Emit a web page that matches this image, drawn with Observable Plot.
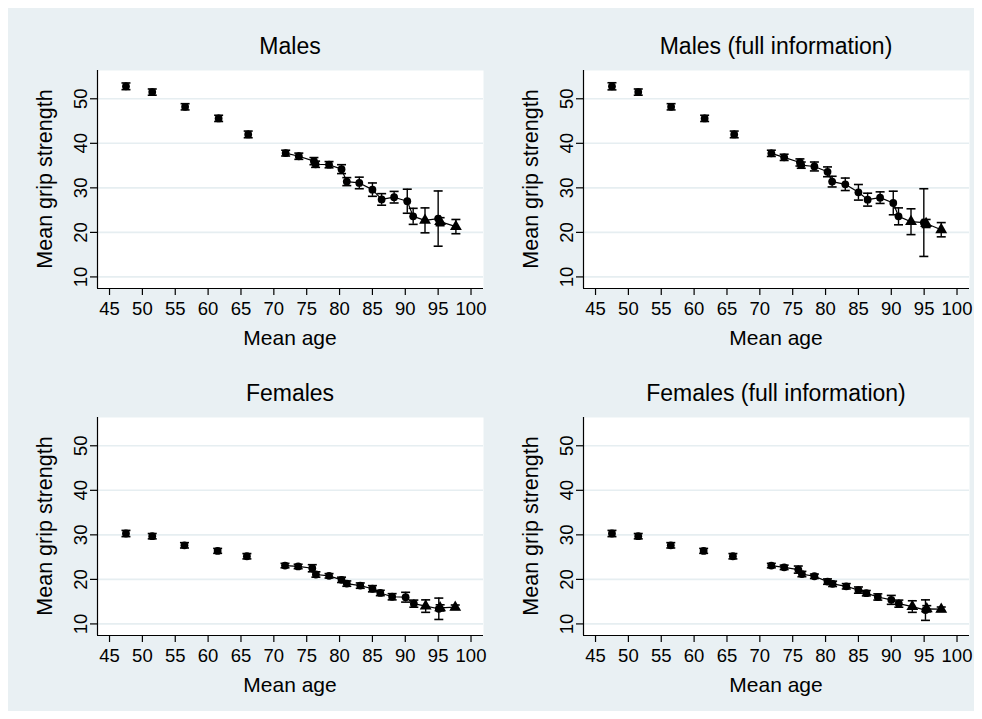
<!DOCTYPE html>
<html>
<head>
<meta charset="utf-8">
<script src="https://cdn.jsdelivr.net/npm/d3@7"></script>
<script src="https://cdn.jsdelivr.net/npm/@observablehq/plot@0.6"></script>
<style>
  html, body { margin: 0; padding: 0; background: #ffffff; }
  #page { position: relative; width: 982px; height: 719px; overflow: hidden; background: #ffffff;
          font-family: "Liberation Sans", Arial, Helvetica, sans-serif; color: #000; }
  #bg { position: absolute; left: 8px; top: 8px; width: 966px; height: 703px; background: #e9f0f3; }
  .panel { position: absolute; }
  .ptitle { position: absolute; font-size: 23px; white-space: nowrap; transform: translate(-50%, -50%); }
  .xtitle { position: absolute; font-size: 21px; white-space: nowrap; transform: translate(-50%, -50%); }
  .ytitle { position: absolute; font-size: 21.5px; white-space: nowrap; transform: translate(-50%, -50%) rotate(-90deg); }
</style>
</head>
<body>
<div id="page"><div id="bg"></div></div>
<script>
// ---------- data ----------
const panelTitles = ["Males", "Males (full information)", "Females", "Females (full information)"];
const xTicks = [45, 50, 55, 60, 65, 70, 75, 80, 85, 90, 95, 100];
const yTicks = [10, 20, 30, 40, 50];
const xLabel = "Mean age";
const yLabel = "Mean grip strength";

// marker type per point (same structure in every panel) and whether it is on the connected line
const markers = ["circle","circle","circle","circle","circle","circle","circle","circle","circle","circle","circle",
                 "circle","circle","circle","circle","circle","circle","circle","triangle","circle","triangle","triangle"];
const connected = [0,0,0,0,0,1,1,1,1,1,1,1,1,1,1,1,1,1,1,1,1,1];

const agesMales      = [47.5, 51.5, 56.5, 61.6, 66.1, 71.8, 73.8, 76.1, 76.35, 78.4, 80.3, 81.1, 83.0, 85.0, 86.4, 88.3, 90.3, 91.2, 93.0, 95.0, 95.3, 97.7];
const gripMales      = [52.8, 51.5, 48.2, 45.6, 42.0, 37.8, 37.1, 36.0, 35.3, 35.2, 34.2, 31.4, 31.1, 29.6, 27.4, 27.9, 27.0, 23.6, 22.7, 23.1, 22.4, 21.3];
const ciMales        = [0.75, 0.7, 0.7, 0.7, 0.75, 0.65, 0.7, 0.8, 0.7, 0.7, 1.0, 0.9, 1.3, 1.5, 1.3, 1.3, 2.7, 1.8, 2.8, 6.2, 0.9, 1.6];

const agesMalesFull  = [47.5, 51.5, 56.5, 61.6, 66.1, 71.75, 73.7, 76.1, 76.3, 78.3, 80.3, 81.0, 83.0, 85.0, 86.4, 88.3, 90.3, 91.1, 93.0, 94.95, 95.3, 97.6];
const gripMalesFull  = [52.8, 51.5, 48.2, 45.6, 42.0, 37.75, 36.85, 35.7, 35.1, 34.8, 33.6, 31.4, 30.8, 29.0, 27.35, 27.8, 26.6, 23.6, 22.4, 22.2, 22.0, 20.6];
const ciMalesFull    = [0.8, 0.7, 0.7, 0.7, 0.75, 0.7, 0.7, 0.8, 0.7, 1.0, 1.1, 1.2, 1.4, 1.75, 1.45, 1.3, 2.65, 1.9, 2.9, 7.6, 0.9, 1.6];

const agesFemales    = [47.5, 51.5, 56.4, 61.45, 65.9, 71.7, 73.7, 75.85, 76.4, 78.4, 80.3, 81.1, 83.15, 85.0, 86.2, 88.0, 90.05, 91.3, 93.1, 95.1, 95.3, 97.6];
const gripFemales    = [30.3, 29.7, 27.65, 26.4, 25.2, 23.1, 22.9, 22.5, 21.1, 20.8, 19.9, 19.05, 18.6, 17.9, 16.95, 16.1, 16.0, 14.55, 14.0, 13.4, 13.6, 13.75];
const ciFemales      = [0.7, 0.6, 0.6, 0.55, 0.6, 0.5, 0.5, 0.8, 0.6, 0.5, 0.6, 0.6, 0.6, 0.7, 0.6, 0.7, 1.1, 0.8, 1.4, 2.4, 0.7, 0.5];

const agesFemalesFull = [47.5, 51.5, 56.45, 61.45, 65.9, 71.75, 73.7, 75.85, 76.4, 78.3, 80.3, 81.07, 83.15, 85.0, 86.2, 87.95, 90.0, 91.15, 93.2, 95.2, 95.4, 97.6];
const gripFemalesFull = [30.3, 29.7, 27.65, 26.4, 25.2, 23.1, 22.7, 22.2, 21.2, 20.7, 19.5, 19.0, 18.45, 17.6, 16.9, 16.05, 15.4, 14.55, 13.9, 13.1, 13.4, 13.3];
const ciFemalesFull   = [0.7, 0.6, 0.6, 0.55, 0.6, 0.5, 0.5, 0.8, 0.6, 0.5, 0.6, 0.6, 0.6, 0.7, 0.6, 0.7, 1.0, 0.8, 1.3, 2.3, 0.7, 0.5];

// ---------- layout ----------
const BG = "#e9f0f3";
const GRID = "#e6eef1";
const xDomain = [43.17, 101.9];
const yDomain = [7.4, 56.35];
const PW = 386, PH = 218;
const panels = [
  {left: 97,  top: 70,  ages: agesMales,       grip: gripMales,       ci: ciMales},
  {left: 583, top: 70,  ages: agesMalesFull,   grip: gripMalesFull,   ci: ciMalesFull},
  {left: 97,  top: 417, ages: agesFemales,     grip: gripFemales,     ci: ciFemales},
  {left: 583, top: 417, ages: agesFemalesFull, grip: gripFemalesFull, ci: ciFemalesFull}
];
const ML = 60, MT = 6, MR = 6, MB = 40;

const capSymbol = { draw(ctx) { ctx.moveTo(-4.5, 0); ctx.lineTo(4.5, 0); } };

const page = document.getElementById("page");

panels.forEach((p, i) => {
  const rows = p.ages.map((a, k) => ({
    age: a, grip: p.grip[k], lo: p.grip[k] - p.ci[k], hi: p.grip[k] + p.ci[k],
    marker: markers[k], connected: connected[k] === 1
  }));
  const chart = Plot.plot({
    width: ML + PW + MR,
    height: MT + PH + MB,
    marginLeft: ML, marginRight: MR, marginTop: MT, marginBottom: MB,
    style: { background: "transparent", fontFamily: "Liberation Sans, Arial, sans-serif", color: "#000", overflow: "visible" },
    x: { domain: xDomain, axis: null },
    y: { domain: yDomain, axis: null },
    marks: [
      Plot.frame({ fill: "#ffffff", stroke: null }),
      Plot.ruleY(yTicks, { stroke: GRID, strokeWidth: 1.6 }),
      Plot.ruleX([xDomain[0]], { stroke: "#000", strokeWidth: 1.2 }),
      Plot.ruleY([yDomain[0]], { stroke: "#000", strokeWidth: 1.2 }),
      Plot.axisX({ ticks: xTicks, tickSize: 7, tickPadding: 6, fontSize: 18.5, label: null, stroke: "#000", strokeWidth: 1.2, tickFormat: d => String(d) }),
      Plot.axisY({ ticks: yTicks, tickSize: 7, tickPadding: 3.5, fontSize: 18.5, label: null, stroke: "#000", strokeWidth: 1.2,
                   tickRotate: -90, textAnchor: "middle", lineAnchor: "bottom", tickFormat: d => String(d) }),
      Plot.line(rows.filter(d => d.connected), { x: "age", y: "grip", stroke: "#000", strokeWidth: 1.2 }),
      Plot.ruleX(rows, { x: "age", y1: "lo", y2: "hi", stroke: "#000", strokeWidth: 1.4 }),
      Plot.dot(rows, { x: "age", y: "lo", symbol: capSymbol, stroke: "#000", fill: "none", strokeWidth: 1.6 }),
      Plot.dot(rows, { x: "age", y: "hi", symbol: capSymbol, stroke: "#000", fill: "none", strokeWidth: 1.6 }),
      Plot.dot(rows.filter(d => d.marker === "circle"), { x: "age", y: "grip", symbol: "circle", r: 3.9, fill: "#000", stroke: null }),
      Plot.dot(rows.filter(d => d.marker === "triangle"), { x: "age", y: "grip", symbol: "triangle", r: 4.4, fill: "#000", stroke: null })
    ]
  });
  const wrap = document.createElement("div");
  wrap.className = "panel";
  wrap.style.left = (p.left - ML) + "px";
  wrap.style.top = (p.top - MT) + "px";
  wrap.appendChild(chart);
  page.appendChild(wrap);

  const t = document.createElement("div");
  t.className = "ptitle";
  t.textContent = panelTitles[i];
  t.style.left = (p.left + PW / 2) + "px";
  t.style.top = (p.top - 24) + "px";
  page.appendChild(t);

  const xt = document.createElement("div");
  xt.className = "xtitle";
  xt.textContent = xLabel;
  xt.style.left = (p.left + PW / 2) + "px";
  xt.style.top = (p.top + PH + 50) + "px";
  page.appendChild(xt);

  const yt = document.createElement("div");
  yt.className = "ytitle";
  yt.textContent = yLabel;
  yt.style.left = (p.left - 52) + "px";
  yt.style.top = (p.top + PH / 2) + "px";
  page.appendChild(yt);
});
</script>
</body>
</html>
